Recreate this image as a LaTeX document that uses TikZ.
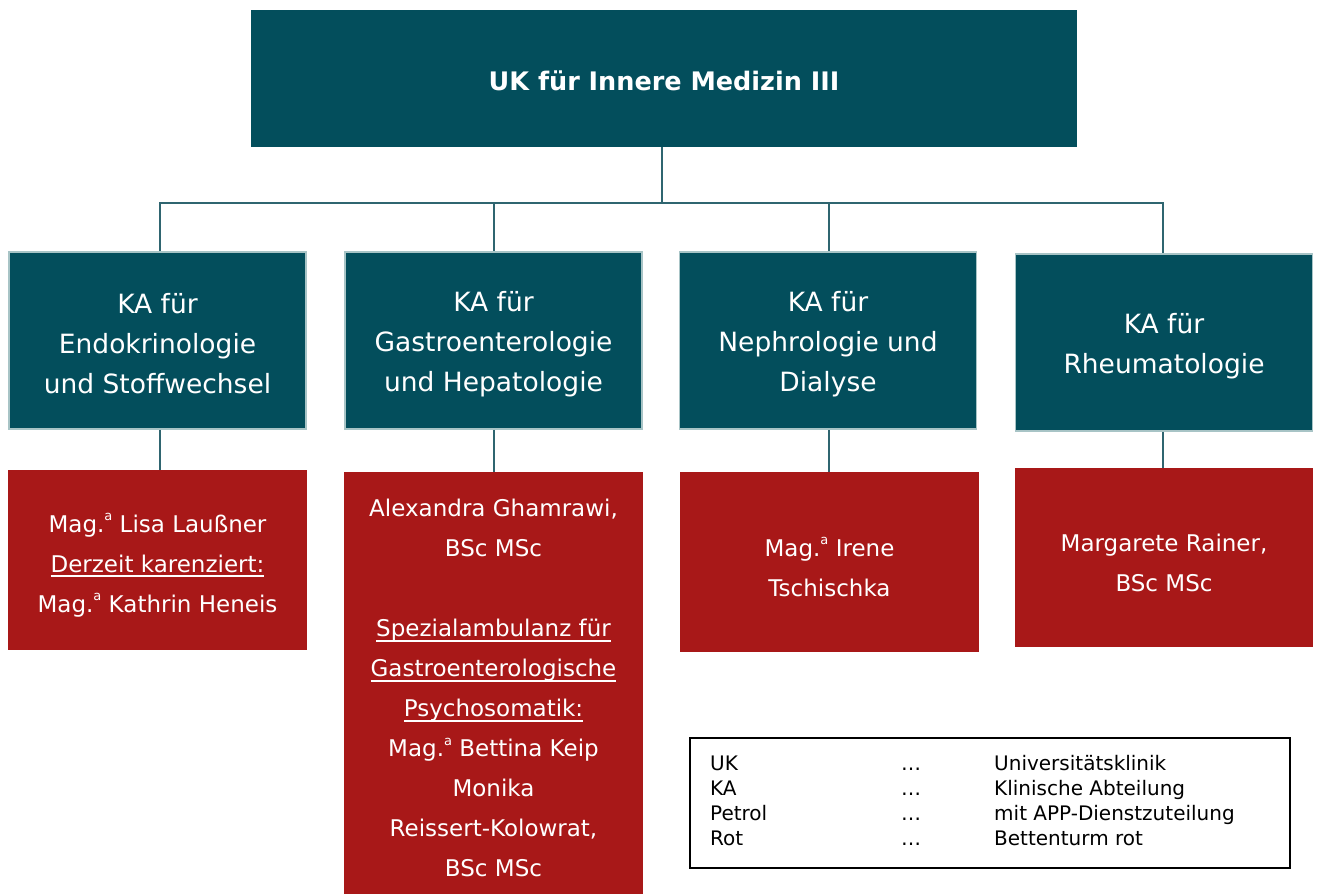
\documentclass[tikz,border=0pt]{standalone}
\usepackage{fontspec}
\setmainfont{DejaVu Sans}
\definecolor{petrol}{HTML}{034E5C}
\definecolor{petrolborder}{HTML}{A8C4C6}
\definecolor{rotbox}{HTML}{A81818}
\definecolor{linecol}{HTML}{2F6570}
\newcommand{\ul}[1]{\setbox0\hbox{#1}\rlap{\rule[-5pt]{\wd0}{1.6pt}}\box0}
\newcommand{\supa}{\raisebox{0.5em}{\fontsize{13}{13}\selectfont a}}
\begin{document}
\begin{tikzpicture}[x=1pt,y=-1pt,
  boxtext/.style={inner sep=0pt, align=center, text=white},
  katext/.style={boxtext, font=\fontsize{26.5}{40}\selectfont, yshift=-3.5pt},
  redtext/.style={boxtext, font=\fontsize{23}{40}\selectfont, yshift=-5pt},
  kabox/.style={rectangle, inner sep=0pt, fill=petrol, draw=petrolborder, line width=1.5pt,
    minimum width=297pt, minimum height=177pt},
  redbox/.style={rectangle, inner sep=0pt, fill=rotbox, minimum width=299pt, minimum height=180pt},
  conn/.style={draw=linecol, line width=1.3pt},
  legtext/.style={anchor=base west, inner sep=0pt, font=\fontsize{20}{22}\selectfont}
]
\useasboundingbox (0,0) rectangle (1319,894);

\node[rectangle, inner sep=0pt, fill=petrol, minimum width=826pt, minimum height=137pt] (top) at (664,78.5) {};
\node[boxtext, font=\fontsize{25.5}{30}\selectfont\bfseries, yshift=-2pt] (topt) at (top.center) {UK für Innere Medizin III};

\node[kabox] (ka1) at (157.5,340.5) {};
\node[kabox] (ka2) at (493.5,340.5) {};
\node[kabox] (ka3) at (828,340.5) {};
\node[kabox] (ka4) at (1164,342.5) {};
\node[katext] (ka1t) at (ka1.center) {KA für\\Endokrinologie\\und Stoffwechsel};
\node[katext] (ka2t) at (ka2.center) {KA für\\Gastroenterologie\\und Hepatologie};
\node[katext] (ka3t) at (ka3.center) {KA für\\Nephrologie und\\Dialyse};
\node[katext] (ka4t) at (ka4.center) {KA für\\Rheumatologie};

\node[redbox] (r1) at (157.5,560) {};
\node[redbox, minimum height=422pt] (r2) at (493.5,683) {};
\node[redbox] (r3) at (829.5,562) {};
\node[redbox, minimum width=298pt, minimum height=179pt] (r4) at (1164,557.5) {};
\node[redtext] (r1t) at (r1.center) {Mag.\supa{} Lisa Laußner\\\ul{Derzeit karenziert:}\\Mag.\supa{} Kathrin Heneis};
\node[redtext] (r2t) at (r2.center) {Alexandra Ghamrawi,\\BSc MSc\\[40pt]\ul{Spezialambulanz für}\\\ul{Gastroenterologische}\\\ul{Psychosomatik:}\\Mag.\supa{} Bettina Keip\\Monika\\Reissert-Kolowrat,\\BSc MSc};
\node[redtext] (r3t) at (r3.center) {Mag.\supa{} Irene\\Tschischka};
\node[redtext] (r4t) at (r4.center) {Margarete Rainer,\\BSc MSc};

\coordinate (bus) at (662,203);
\coordinate (c1) at (160,0);
\coordinate (c2) at (494,0);
\coordinate (c3) at (829,0);
\coordinate (c4) at (1163,0);
\draw[conn] (top.south -| bus) -- (bus);
\draw[conn] (bus) -| (ka1.north -| c1);
\draw[conn] (bus) -| (ka2.north -| c2);
\draw[conn] (bus) -| (ka3.north -| c3);
\draw[conn] (bus) -| (ka4.north -| c4);
\draw[conn] (ka1.south -| c1) -- (r1.north -| c1);
\draw[conn] (ka2.south -| c2) -- (r2.north -| c2);
\draw[conn] (ka3.south -| c3) -- (r3.north -| c3);
\draw[conn] (ka4.south -| c4) -- (r4.north -| c4);

\node[draw=black, line width=1.2pt, minimum width=600pt, minimum height=130pt, inner sep=0pt] (legend) at (990,803) {};
\node[legtext] (l1a) at (710,770) {UK};
\node[legtext] (l1b) at (901,770) {\dots};
\node[legtext] (l1c) at (994,770) {Universitätsklinik};
\node[legtext] (l2a) at (710,795) {KA};
\node[legtext] (l2b) at (901,795) {\dots};
\node[legtext] (l2c) at (994,795) {Klinische Abteilung};
\node[legtext] (l3a) at (710,820) {Petrol};
\node[legtext] (l3b) at (901,820) {\dots};
\node[legtext] (l3c) at (994,820) {mit APP-Dienstzuteilung};
\node[legtext] (l4a) at (710,845) {Rot};
\node[legtext] (l4b) at (901,845) {\dots};
\node[legtext] (l4c) at (994,845) {Bettenturm rot};
\end{tikzpicture}
\end{document}
